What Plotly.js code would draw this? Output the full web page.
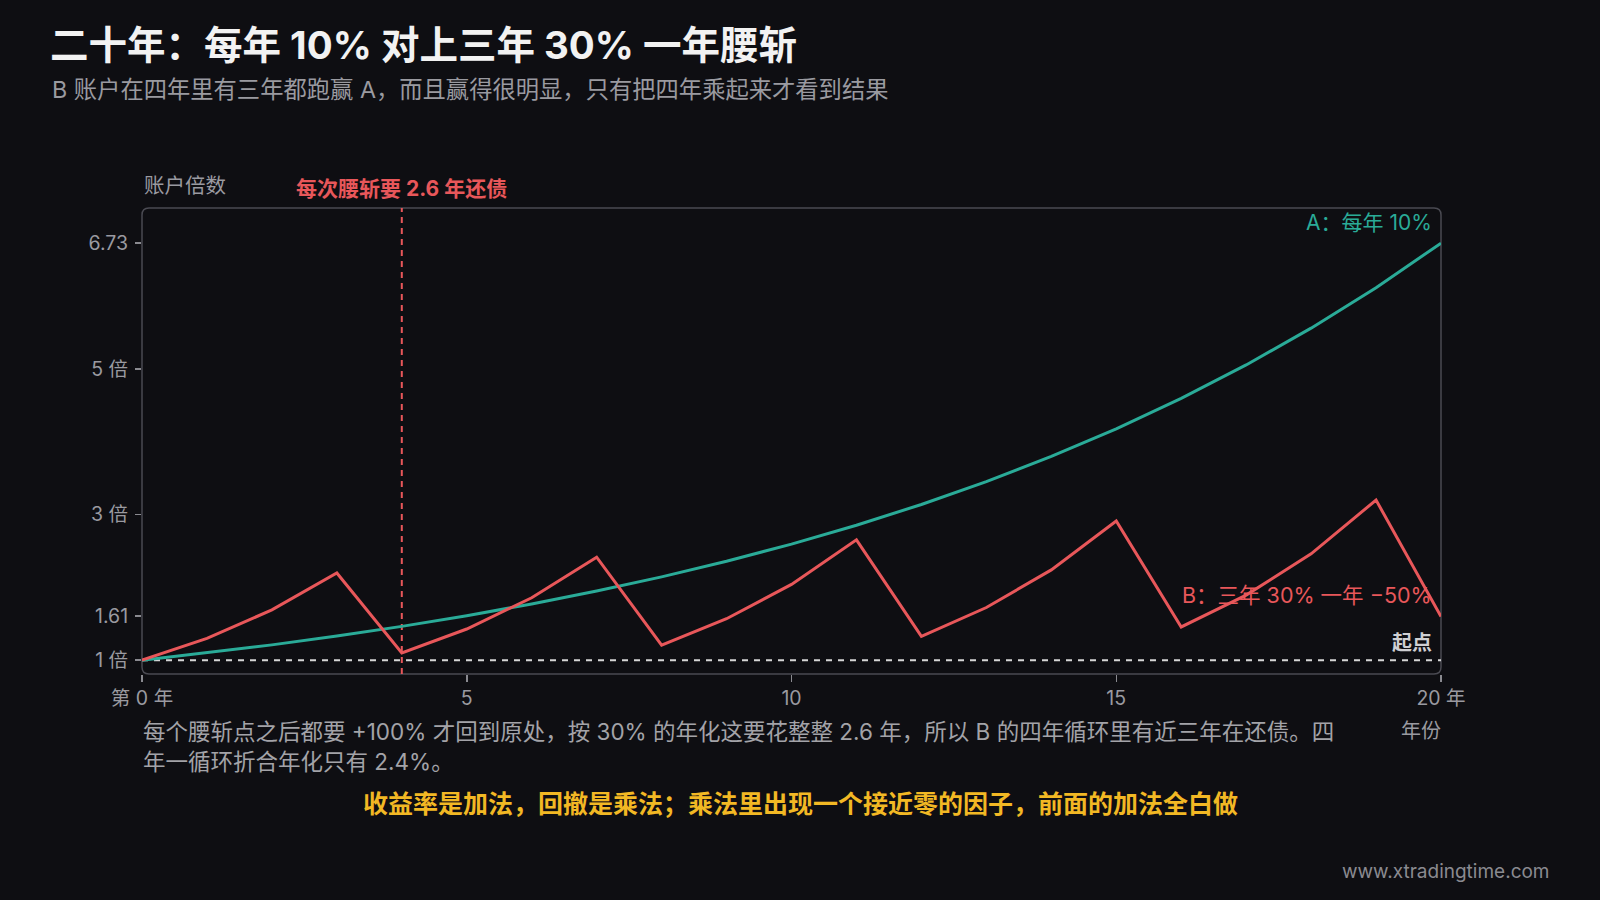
<!DOCTYPE html>
<html>
<head>
<meta charset="utf-8">
<script src="https://cdn.plot.ly/plotly-3.0.1.min.js"></script>
<style>
html,body{margin:0;padding:0;background:#0e0e12;}
#chart{width:1600px;height:900px;}
</style>
</head>
<body>
<div id="chart"></div>
<script>
// ---- data ----
const years = [0,1,2,3,4,5,6,7,8,9,10,11,12,13,14,15,16,17,18,19,20];
const seriesA = [1, 1.1, 1.21, 1.331, 1.4641, 1.6105, 1.7716, 1.9487, 2.1436, 2.3579, 2.5937,
                 2.8531, 3.1384, 3.4523, 3.7975, 4.1772, 4.5950, 5.0545, 5.5599, 6.1159, 6.7275];
const seriesB = [1, 1.3, 1.69, 2.197, 1.0985, 1.428, 1.857, 2.414, 1.207, 1.569, 2.040,
                 2.652, 1.326, 1.723, 2.240, 2.912, 1.456, 1.893, 2.461, 3.199, 1.600];
const yTickVals = [1, 1.61, 3, 5, 6.73];
const yTickText = ['1 倍', '1.61', '3 倍', '5 倍', '6.73'];
const xTickVals = [0, 5, 10, 15, 20];
const xTickText = ['第 0 年', '5', '10', '15', '20 年'];
const cutYear = 4;
const baseline = 1;

// ---- layout helpers ----
const L = 142, R = 1441, T = 208, B = 674;
const W = R - L, H = B - T;
const px = x => (x - L) / W;
const py = y => (B - y) / H;
const FONT = 'Inter, "Noto Sans CJK SC", "Noto Sans", sans-serif';
const TEAL = '#2aab98', RED = '#e8575a', GREY = '#9a9aa0';

// rounded frame
const r = 7, rx = r / W, ry = r / H;
const framePath = `M ${rx},1 L ${1-rx},1 Q 1,1 1,${1-ry} L 1,${ry} Q 1,0 ${1-rx},0 L ${rx},0 Q 0,0 0,${ry} L 0,${1-ry} Q 0,1 ${rx},1 Z`;

const traces = [
  {x: years, y: seriesA, type: 'scatter', mode: 'lines', name: 'A',
   line: {color: TEAL, width: 3}, hoverinfo: 'skip'},
  {x: years, y: seriesB, type: 'scatter', mode: 'lines', name: 'B',
   line: {color: RED, width: 3}, hoverinfo: 'skip'}
];

const ann = (text, x, y, opts) => Object.assign({
  text, x: px(x), y: py(y), xref: 'paper', yref: 'paper', showarrow: false,
  xanchor: 'left', yanchor: 'middle', font: {family: FONT, size: 20, color: GREY}
}, opts || {});

const layout = {
  width: 1600, height: 900,
  paper_bgcolor: '#0e0e12', plot_bgcolor: '#0e0e12',
  margin: {l: L, r: 1600 - R, t: T, b: 900 - B},
  showlegend: false,
  title: {
    text: '二十年：每年 10% 对上三年 30% 一年腰斩',
    xref: 'container', yref: 'container', x: 50 / 1600, y: 1 - 46 / 900,
    xanchor: 'left', yanchor: 'middle',
    font: {family: FONT, size: 38.5, color: '#f2f2f2', weight: 'bold'}
  },
  xaxis: {
    range: [0, 20], tickvals: xTickVals, ticktext: xTickText,
    showgrid: false, zeroline: false, showline: false,
    ticks: 'outside', ticklen: 7, tickwidth: 1.5, tickcolor: '#8a8a90',
    tickfont: {family: FONT, size: 19.5, color: GREY}, fixedrange: true
  },
  yaxis: {
    range: [0.81, 7.21], tickvals: yTickVals, ticktext: yTickText,
    showgrid: false, zeroline: false, showline: false,
    ticks: 'outside', ticklen: 6, tickwidth: 1.5, tickcolor: '#8a8a90',
    ticklabelstandoff: 3,
    tickfont: {family: FONT, size: 19.5, color: GREY}, fixedrange: true
  },
  shapes: [
    {type: 'path', xref: 'paper', yref: 'paper', path: framePath,
     line: {color: '#4a4a52', width: 1.5}, layer: 'below'},
    {type: 'line', xref: 'x', yref: 'y', x0: 0, x1: 20, y0: baseline, y1: baseline,
     line: {color: '#d6d6d6', width: 2, dash: '6px,6px'}, layer: 'below'},
    {type: 'line', xref: 'x', yref: 'paper', x0: cutYear, x1: cutYear, y0: 0, y1: 1,
     line: {color: RED, width: 2, dash: '6px,5px'}, layer: 'below'}
  ],
  annotations: [
    ann('B 账户在四年里有三年都跑赢 A，而且赢得很明显，只有把四年乘起来才看到结果', 50, 89,
        {font: {family: FONT, size: 23.3, color: '#9a9aa0'}}),
    ann('账户倍数', 142, 186, {font: {family: FONT, size: 20.5, color: GREY}}),
    {text: '每次腰斩要 2.6 年还债', x: cutYear, xref: 'x', y: py(189), yref: 'paper',
     showarrow: false, xanchor: 'center', yanchor: 'middle',
     font: {family: FONT, size: 21, color: RED, weight: 'bold'}},
    ann('A：每年 10%', 1434, 222, {xanchor: 'right', font: {family: FONT, size: 21, color: TEAL}}),
    ann('B：三年 30% 一年 −50%', 1434, 595, {xanchor: 'right', font: {family: FONT, size: 21.5, color: RED}}),
    ann('起点', 1434, 643, {xanchor: 'right', font: {family: FONT, size: 20, color: '#cfcfd2', weight: 'bold'}}),
    ann('年份', 1421, 731, {xanchor: 'center', font: {family: FONT, size: 20, color: GREY}}),
    ann('每个腰斩点之后都要 +100% 才回到原处，按 30% 的年化这要花整整 2.6 年，所以 B 的四年循环里有近三年在还债。四', 141, 731,
        {font: {family: FONT, size: 22.5, color: '#a3a3a8'}}),
    ann('年一循环折合年化只有 2.4%。', 141, 761, {font: {family: FONT, size: 22.5, color: '#a3a3a8'}}),
    ann('收益率是加法，回撤是乘法；乘法里出现一个接近零的因子，前面的加法全白做', 800, 804,
        {xanchor: 'center', font: {family: FONT, size: 25, color: '#f2b824', weight: 'bold'}}),
    ann('www.xtradingtime.com', 1552, 871, {xanchor: 'right', font: {family: FONT, size: 19, color: '#8a8a90'}})
  ]
};

Plotly.newPlot('chart', traces, layout, {displayModeBar: false, staticPlot: true});
</script>
</body>
</html>
